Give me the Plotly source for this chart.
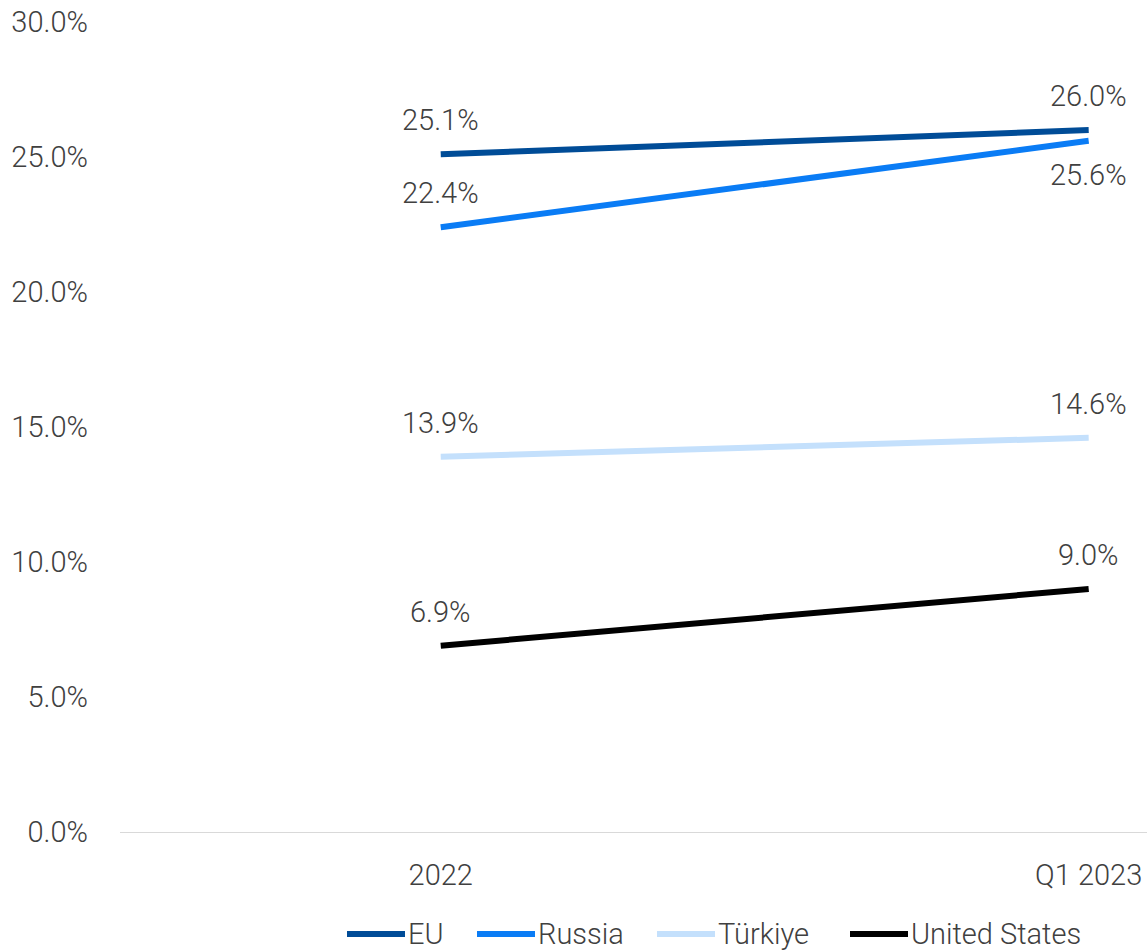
import plotly.graph_objects as go

periods = ["2022", "Q1 2023"]
series_names = ["EU", "Russia", "Türkiye", "United States"]
eu = [25.1, 26.0]
russia = [22.4, 25.6]
turkiye = [13.9, 14.6]
united_states = [6.9, 9.0]
y_ticks = [0, 5, 10, 15, 20, 25, 30]

colors = ["#004C97", "#0A7CF5", "#C4E0FC", "#000000"]
# label placement per point: +1 above the line, -1 below
label_side = [[1, 1], [1, -1], [1, 1], [1, 1]]

text_color = "#404040"
font_family = "Roboto, Inter, sans-serif"
font_weight = 300
font_size = 29
x_pos = list(range(len(periods)))

# plot area geometry (px) used to place the legend row
W, H = 1147, 952
M_L, M_R, M_T, M_B = 120, 0, 22, 120
plot_w = W - M_L - M_R
plot_h = H - M_T - M_B
legend_y_px = 934
legend_line_px = [(347, 405), (477, 535), (657, 715), (850, 908)]


def px_to_paper_x(px):
    return (px - M_L) / plot_w


def px_to_paper_y(py):
    return (H - M_B - py) / plot_h


fig = go.Figure()
for name, vals, color, sides in zip(series_names, [eu, russia, turkiye, united_states], colors, label_side):
    fig.add_trace(go.Scatter(
        x=x_pos, y=vals, name=name, mode="lines",
        line=dict(color=color, width=6),
        hoverinfo="skip", showlegend=False,
    ))
    for xi, v, s in zip(x_pos, vals, sides):
        fig.add_annotation(
            x=xi, y=v, text=f"{v:.1f}%", showarrow=False,
            yshift=34 * s,
            font=dict(size=font_size, color=text_color, family=font_family, weight=font_weight),
        )

# legend row: a short line swatch followed by the series name
ly = px_to_paper_y(legend_y_px)
for name, color, (x0, x1) in zip(series_names, colors, legend_line_px):
    fig.add_shape(
        type="line", xref="paper", yref="paper",
        x0=px_to_paper_x(x0), x1=px_to_paper_x(x1), y0=ly, y1=ly,
        line=dict(color=color, width=6),
    )
    fig.add_annotation(
        xref="paper", yref="paper", x=px_to_paper_x(x1 + 1), y=ly,
        xanchor="left", yanchor="middle", text=name, showarrow=False,
        font=dict(size=font_size, color=text_color, family=font_family, weight=font_weight),
    )

fig.update_layout(
    width=W, height=H,
    margin=dict(l=M_L, r=M_R, t=M_T, b=M_B),
    plot_bgcolor="white", paper_bgcolor="white",
    font=dict(family=font_family, size=font_size, color=text_color, weight=font_weight),
    showlegend=False,
    xaxis=dict(
        range=[-0.495, 1.09], tickvals=x_pos, ticktext=periods,
        showgrid=False, zeroline=False, showline=True, linecolor="#D9D9D9", linewidth=1,
        ticks="", ticklabelstandoff=17, fixedrange=True,
    ),
    yaxis=dict(
        range=[0, 30], tickvals=y_ticks, ticktext=[f"{t:.1f}%" for t in y_ticks],
        showgrid=False, zeroline=False, showline=False,
        ticks="", ticklabelstandoff=31, fixedrange=True,
    ),
)

fig.write_html("out.html")
